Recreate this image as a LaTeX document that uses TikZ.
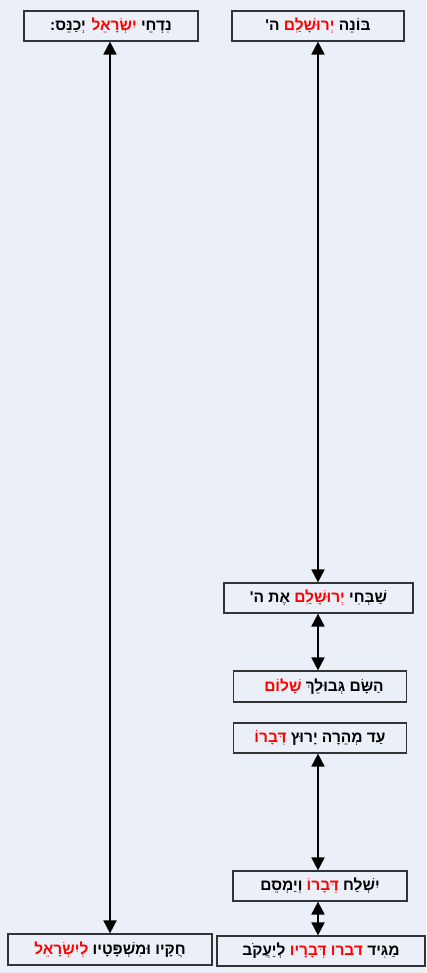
\documentclass[tikz,border=0pt]{standalone}
\usepackage{fontspec}
\usetikzlibrary{arrows.meta}
\TeXXeTstate=1
\newfontfamily\hebfont[Script=Hebrew]{Liberation Sans}
\definecolor{bgc}{HTML}{EBF0F8}
\definecolor{bordc}{HTML}{333333}
\newcommand{\rtl}[1]{\beginR#1\endR}
\newcommand{\rd}[1]{\textcolor{red}{\beginR#1\endR}}
\tikzset{
  verse/.style={draw=bordc, line width=1.2pt, rectangle, minimum height=30pt, inner sep=0pt,
    font=\hebfont\bfseries\fontsize{15.5}{17}\selectfont},
  link/.style={line width=2pt, {Triangle[length=13pt,width=13pt]}-{Triangle[length=13pt,width=13pt]}}
}
\begin{document}
\begin{tikzpicture}[x=1pt,y=-1pt]
\fill[bgc] (0,0) rectangle (426,973);
\useasboundingbox (0,0) rectangle (426,973);
\node[verse, minimum width=172pt] (A) at (318,26) {\rtl{ה'} \rd{יְרוּשָׁלִַם} \rtl{בּוֹנֵה}};
\node[verse, minimum width=174pt] (B) at (111,26) {\rtl{יְכַנֵּס:} \rd{יִשְׂרָאֵל} \rtl{נִדְחֵי}};
\node[verse, minimum width=189pt] (C) at (318.5,598) {\rtl{אֶת ה'} \rd{יְרוּשָׁלִַם} \rtl{שַׁבְּחִי}};
\node[verse, minimum width=173pt, minimum height=31pt] (D) at (320,686.5) {\hspace{8pt}\rd{שָׁלוֹם} \rtl{הַשָּׂם גְּבוּלֵךְ}};
\node[verse, minimum width=173pt] (E) at (320,738) {\rd{דְּבָרוֹ} \rtl{עַד מְהֵרָה יָרוּץ}};
\node[verse, minimum width=174pt] (F) at (320,886) {\rtl{וְיַמְסֵם} \rd{דְּבָרוֹ} \rtl{יִשְׁלַח}};
\node[verse, minimum width=208pt] (G) at (321,951) {\rtl{לְיַעֲקֹב} \rd{דברו דְּבָרָיו} \rtl{מַגִּיד}};
\node[verse, minimum width=204pt, minimum height=31pt] (H) at (110,949.5) {\rd{לְיִשְׂרָאֵל} \rtl{חֻקָּיו וּמִשְׁפָּטָיו}};
\draw[link] (A.south) -- (C.north -| A.south);
\draw[link] (B.south -| H.north) -- (H.north);
\draw[link] (C.south -| A.south) -- (D.north -| A.south);
\draw[link] (E.south -| A.south) -- (F.north -| A.south);
\draw[link] (F.south -| A.south) -- (G.north -| A.south);
\end{tikzpicture}
\end{document}
